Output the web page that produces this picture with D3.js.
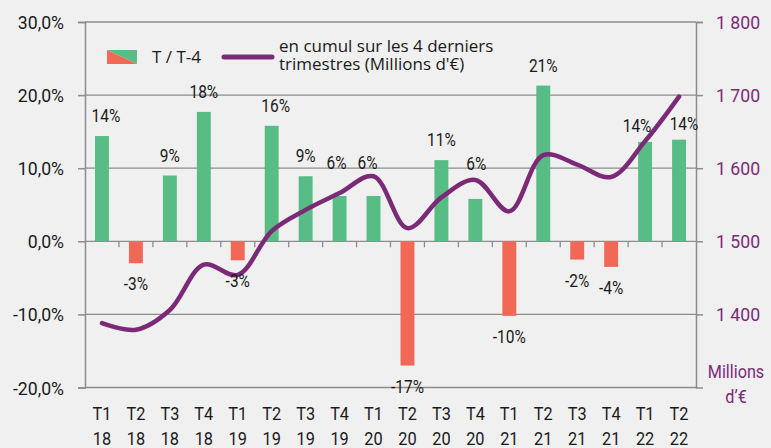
<!DOCTYPE html>
<html>
<head>
<meta charset="utf-8">
<script src="https://cdn.jsdelivr.net/npm/d3@7"></script>
<style>
  body { margin: 0; background: #f0f0f0; }
  svg { display: block; }
  text { font-family: "Roboto", sans-serif; }
  .leg { font-family: "Open Sans", sans-serif; }
</style>
</head>
<body>
<svg id="chart" width="771" height="448"></svg>
<script>
// trimestres
var quarters = ['T1','T2','T3','T4','T1','T2','T3','T4','T1','T2','T3','T4','T1','T2','T3','T4','T1','T2'];
var years    = ['18','18','18','18','19','19','19','19','20','20','20','20','21','21','21','21','22','22'];
// evolution T / T-4 (%)
var growth = [14.4, -3.0, 9.0, 17.7, -2.6, 15.8, 8.9, 6.2, 6.2, -17.0, 11.1, 5.8, -10.2, 21.3, -2.5, -3.5, 13.6, 13.9];
var growthLabels = ['14%','-3%','9%','18%','-3%','16%','9%','6%','6%','-17%','11%','6%','-10%','21%','-2%','-4%','14%','14%'];
// cumul sur 4 trimestres (Millions d'€)
var cumul = [1388, 1379, 1406, 1468, 1454, 1514, 1543, 1566, 1589, 1518, 1560, 1584, 1541, 1618, 1605, 1588, 1637, 1698];

var leftTicks = [-20, -10, 0, 10, 20, 30];
var rightTicks = [1400, 1500, 1600, 1700, 1800];

var svg = d3.select('#chart');
var pLeft = 85, pRight = 696, pTop = 22, pBottom = 387.5;

var x = d3.scaleBand()
  .domain(d3.range(growth.length))
  .range([pLeft, pRight])
  .padding(0);
var step = x.step();
var barW = step * 0.41;

var y = d3.scaleLinear().domain([-20, 30]).range([pBottom, pTop]);
var y2 = d3.scaleLinear().domain([1300, 1800]).range([pBottom, pTop]);

var green = '#57bd84', red = '#f26857', purple = '#7b2a78', gridC = '#8c8c8c';

// condensed text helper: anchor at (tx,ty), squeezed horizontally
function ctext(g, tx, ty, str, size, fill, anchor, sx) {
  return g.append('text')
    .attr('transform', 'translate(' + tx + ',' + ty + ') scale(' + (sx || 0.86) + ',1)')
    .attr('text-anchor', anchor || 'middle')
    .attr('font-size', size)
    .attr('fill', fill)
    .text(str);
}

// grid
svg.append('g')
  .selectAll('line')
  .data(leftTicks)
  .enter().append('line')
  .attr('x1', pLeft).attr('x2', pRight)
  .attr('y1', d => y(d)).attr('y2', d => y(d))
  .attr('stroke', gridC).attr('stroke-width', 1.3);

// left axis
var gl = svg.append('g')
  .attr('transform', 'translate(' + pLeft + ',0)')
  .call(d3.axisLeft(y).tickValues(leftTicks).tickSize(7).tickFormat(''));
gl.selectAll('path,line').attr('stroke', gridC).attr('stroke-width', 1.5);
leftTicks.forEach(function (t) {
  ctext(svg, 64, y(t) + 7, t.toFixed(1).replace('.', ',') + '%', 19, '#1a1a1a', 'end', 0.93);
});

// right axis
var gr = svg.append('g')
  .attr('transform', 'translate(' + pRight + ',0)')
  .call(d3.axisRight(y2).tickValues(rightTicks).tickSize(7).tickFormat(''));
gr.selectAll('path,line').attr('stroke', gridC).attr('stroke-width', 1.5);
rightTicks.forEach(function (t) {
  ctext(svg, 716, y2(t) + 7, d3.format(',')(t).replace(',', ' '), 19, purple, 'start', 0.93);
});

ctext(svg, 736, 378, 'Millions', 18, purple, 'middle', 0.9);
ctext(svg, 736, 403, 'd\u2019\u20ac', 18, purple, 'middle', 0.9);

// zero line boundary ticks
svg.append('g')
  .selectAll('line')
  .data(d3.range(1, growth.length))
  .enter().append('line')
  .attr('x1', d => pLeft + d * step).attr('x2', d => pLeft + d * step)
  .attr('y1', y(0)).attr('y2', y(0) + 6)
  .attr('stroke', gridC).attr('stroke-width', 1.3);

// bars
svg.append('g')
  .selectAll('rect')
  .data(growth)
  .enter().append('rect')
  .attr('x', (d, i) => x(i) + (step - barW) / 2)
  .attr('width', barW)
  .attr('y', d => y(Math.max(0, d)))
  .attr('height', d => Math.abs(y(d) - y(0)))
  .attr('fill', d => d >= 0 ? green : red);

// cumul line
var line = d3.line()
  .x((d, i) => x(i) + step / 2)
  .y(d => y2(d))
  .curve(d3.curveCatmullRom.alpha(0.5));
svg.append('path')
  .datum(cumul)
  .attr('d', line)
  .attr('fill', 'none')
  .attr('stroke', purple)
  .attr('stroke-width', 4.5)
  .attr('stroke-linecap', 'round');

// bar labels (a few were nudged by hand in the original to clear the line)
var nudge = { 0: [4, 0], 5: [4, 0], 7: [-3, -13], 8: [-6, -13], 11: [1, -15], 16: [-8, 4], 17: [5, 4] };
var bl = svg.append('g');
growth.forEach(function (d, i) {
  var n = nudge[i] || [0, 0];
  var by = d >= 0 ? y(d) - 14 : y(d) + 27;
  ctext(bl, x(i) + step / 2 + n[0], by + n[1], growthLabels[i], 18, '#1a1a1a', 'middle', 0.86);
});

// x labels
var xl = svg.append('g');
quarters.forEach(function (q, i) {
  ctext(xl, x(i) + step / 2, 420, q, 19, '#1a1a1a');
  ctext(xl, x(i) + step / 2, 445, years[i], 19, '#1a1a1a');
});

// legend
var lg = svg.append('g');
lg.append('path').attr('d', 'M107,50 L137,50 L137,64 Z').attr('fill', green);
lg.append('path').attr('d', 'M107,50 L137,64 L107,64 Z').attr('fill', red);
ctext(lg, 152, 63, 'T / T-4', 17, '#1a1a1a', 'start', 1).attr('class', 'leg');
lg.append('line').attr('x1', 224).attr('x2', 272).attr('y1', 57).attr('y2', 57)
  .attr('stroke', purple).attr('stroke-width', 5).attr('stroke-linecap', 'round');
ctext(lg, 279, 52, 'en cumul sur les 4 derniers', 17, '#1a1a1a', 'start', 1).attr('class', 'leg');
ctext(lg, 279, 70, "trimestres (Millions d'\u20ac)", 17, '#1a1a1a', 'start', 1).attr('class', 'leg');
</script>
</body>
</html>
